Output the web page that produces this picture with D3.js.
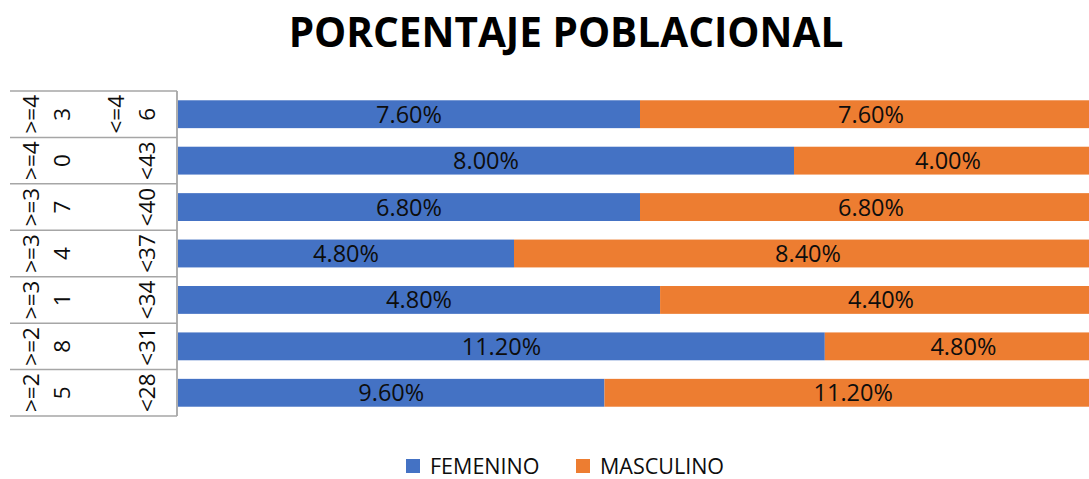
<!DOCTYPE html>
<html>
<head>
<meta charset="utf-8">
<script src="https://cdn.jsdelivr.net/npm/d3@7"></script>
<style>
  body { margin: 0; background: #fff; }
  svg { display: block; font-family: "Open Sans", sans-serif; }
</style>
</head>
<body>
<svg id="chart" width="1089" height="479"></svg>
<script>
'use strict';

// Data (top row first)
const outerLabels = ['>=43', '>=40', '>=37', '>=34', '>=31', '>=28', '>=25'];
const innerLabels = ['<=46', '<43', '<40', '<37', '<34', '<31', '<28'];
const femenino    = [7.6, 8.0, 6.8, 4.8, 4.8, 11.2, 9.6];
const masculino   = [7.6, 4.0, 6.8, 8.4, 4.4, 4.8, 11.2];
const seriesNames = ['FEMENINO', 'MASCULINO'];
const colors      = ['#4472C4', '#ED7D31'];

const rows = outerLabels.map((o, i) => ({
    key: i, outer: o, inner: innerLabels[i],
    FEMENINO: femenino[i], MASCULINO: masculino[i]
}));

const svg = d3.select('#chart');

const y = d3.scaleBand()
    .domain(rows.map(d => d.key))
    .range([91, 416])
    .paddingInner(0.4)
    .paddingOuter(0.2);

const x = d3.scaleLinear().domain([0, 1]).range([178, 1102]);

const stacked = d3.stack()
    .keys(seriesNames)
    .offset(d3.stackOffsetExpand)(rows);

// bars
const layers = svg.append('g').selectAll('g')
    .data(stacked)
    .join('g')
    .attr('fill', (d, i) => colors[i]);

layers.selectAll('rect')
    .data(d => d)
    .join('rect')
    .attr('x', d => x(d[0]))
    .attr('y', d => y(d.data.key))
    .attr('width', d => x(d[1]) - x(d[0]))
    .attr('height', y.bandwidth());

// data labels
stacked.forEach(layer => {
    svg.append('g').selectAll('text')
        .data(layer)
        .join('text')
        .attr('x', d => (x(d[0]) + x(d[1])) / 2)
        .attr('y', d => y(d.data.key) + y.bandwidth() / 2 + 8.5)
        .attr('text-anchor', 'middle')
        .attr('font-size', 23.5)
        .attr('fill', '#0d0d0d')
        .text(d => d.data[layer.key].toFixed(2) + '%');
});

// multi-level category axis
const step = y.step();
const rowTop = i => 91 + i * step;
const axisG = svg.append('g');

axisG.selectAll('line.row')
    .data(d3.range(rows.length + 1))
    .join('line')
    .attr('x1', 10).attr('x2', 177)
    .attr('y1', i => rowTop(i)).attr('y2', i => rowTop(i))
    .attr('stroke', '#a6a6a6')
    .attr('stroke-width', 1.5);

axisG.append('line')
    .attr('x1', 177).attr('x2', 177)
    .attr('y1', 91).attr('y2', 416)
    .attr('stroke', '#a6a6a6')
    .attr('stroke-width', 1.8);

function wrap(s) {
    return s.length > 3 ? [s.slice(0, 3), s.slice(3)] : [s];
}

function drawColumn(accessor, lastX) {
    rows.forEach((d, i) => {
        const lines = wrap(accessor(d));
        const cy = rowTop(i) + step / 2;
        lines.forEach((t, j) => {
            const lx = lastX - (lines.length - 1 - j) * 31;
            axisG.append('text')
                .attr('transform', `translate(${lx},${cy}) rotate(-90)`)
                .attr('text-anchor', 'middle')
                .attr('dominant-baseline', 'central')
                .attr('font-size', 22.5)
                .attr('fill', '#0d0d0d')
                .text(t);
        });
    });
}

drawColumn(d => d.outer, 61);
drawColumn(d => d.inner, 146);

// title
svg.append('text')
    .attr('x', 566)
    .attr('y', 47)
    .attr('text-anchor', 'middle')
    .attr('font-size', 40.5)
    .attr('font-weight', 'bold')
    .attr('fill', '#000')
    .text('PORCENTAJE POBLACIONAL');

// legend
const legendX = [406, 576];
const legend = svg.append('g').selectAll('g')
    .data(seriesNames)
    .join('g')
    .attr('transform', (d, i) => `translate(${legendX[i]},459)`);

legend.append('rect')
    .attr('width', 14).attr('height', 14)
    .attr('fill', (d, i) => colors[i]);

legend.append('text')
    .attr('x', 24)
    .attr('y', 14.5)
    .attr('font-size', 21.5)
    .attr('fill', '#0d0d0d')
    .text(d => d);
</script>
</body>
</html>
